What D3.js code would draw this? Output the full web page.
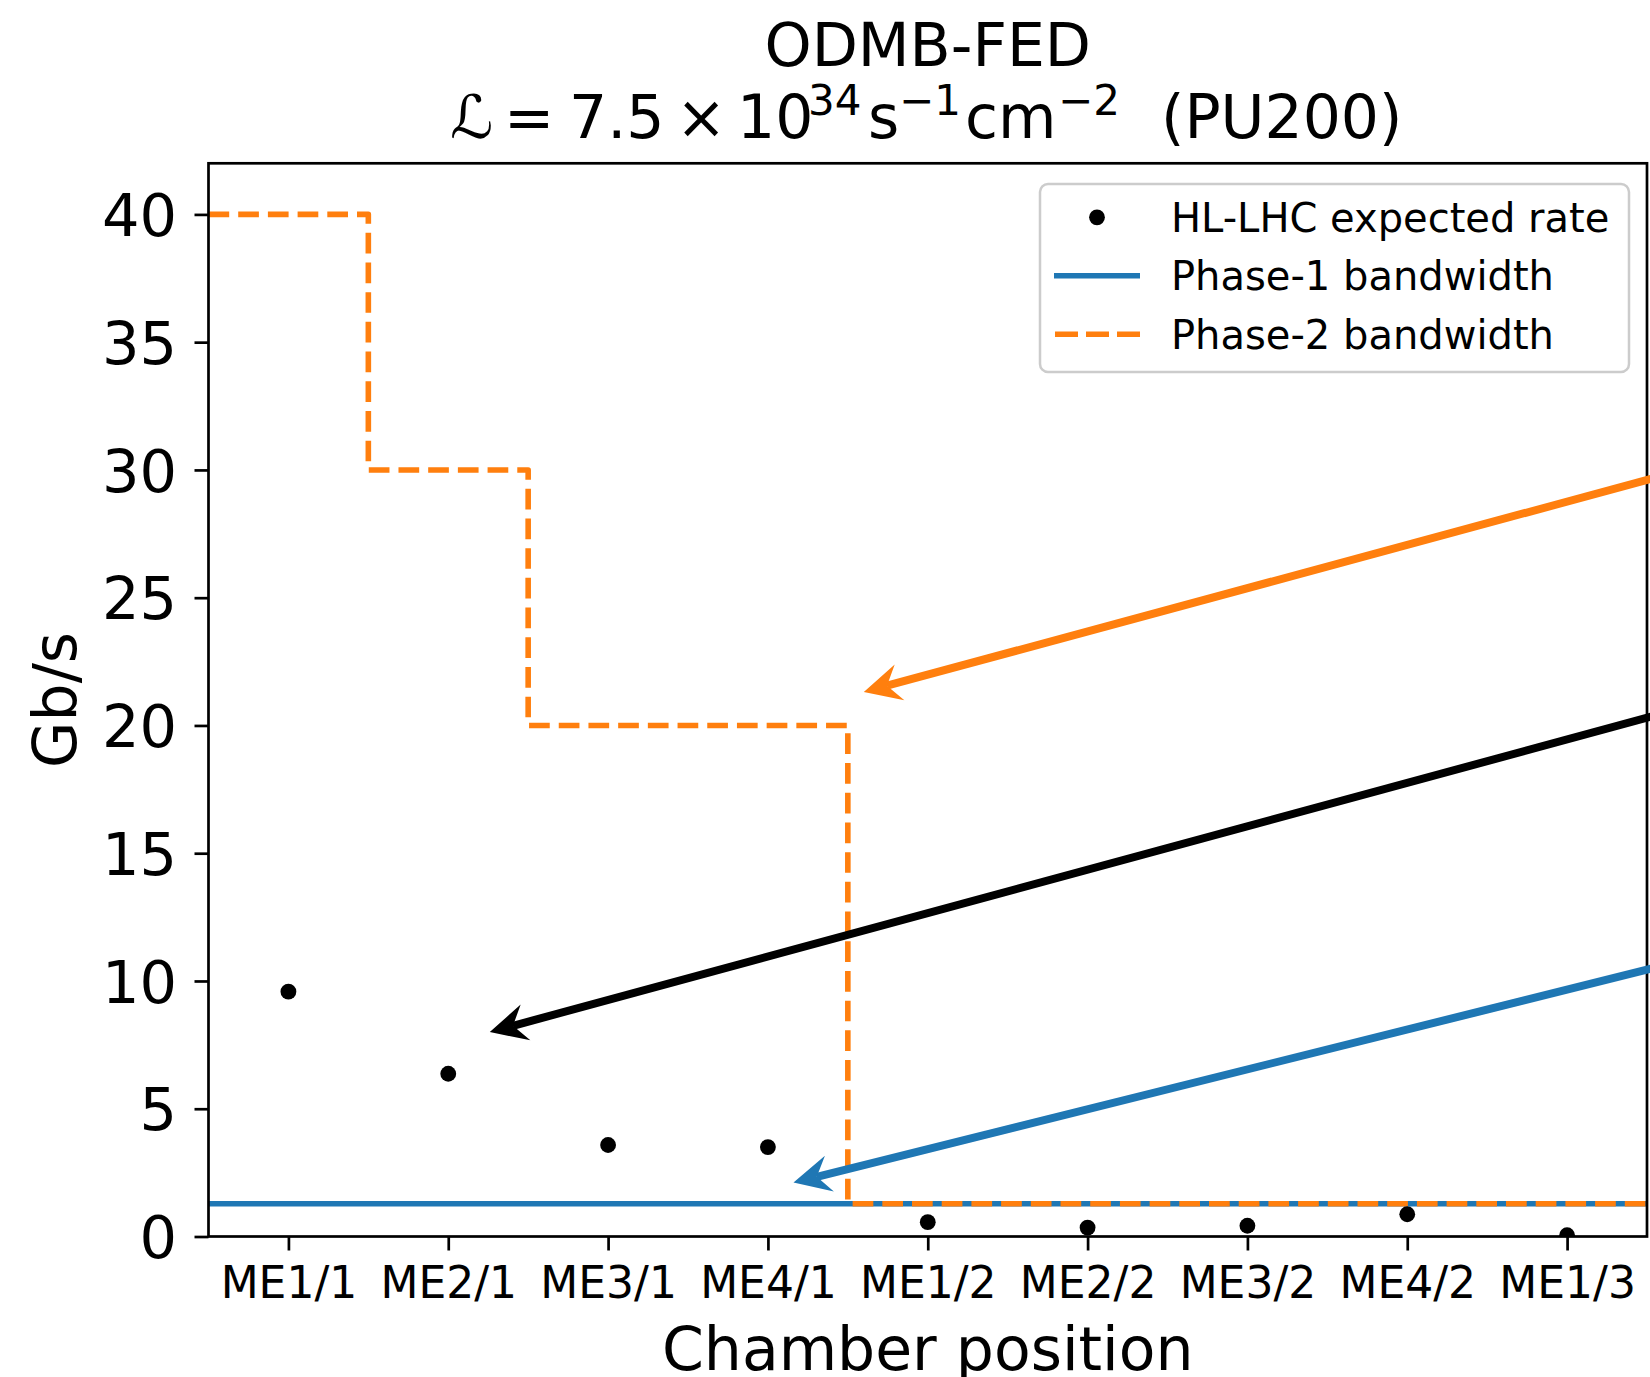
<!DOCTYPE html>
<html>
<head>
<meta charset="utf-8">
<script src="https://cdn.jsdelivr.net/npm/d3@7"></script>
<style>
  body { margin: 0; background: #fff; }
  text { font-family: "DejaVu Sans", sans-serif; fill: #000; }
</style>
</head>
<body>
<div id="plot"></div>
<script>
// chamber positions on the x axis
var chambers = ["ME1/1", "ME2/1", "ME3/1", "ME4/1", "ME1/2", "ME2/2", "ME3/2", "ME4/2", "ME1/3"];
// HL-LHC expected rate per chamber (Gb/s)
var expectedRate = [9.58, 6.37, 3.58, 3.50, 0.56, 0.35, 0.42, 0.87, 0.05];
// Phase-1 bandwidth, same for every chamber (Gb/s)
var phase1Bandwidth = 1.28;
// Phase-2 bandwidth per chamber (Gb/s)
var phase2Bandwidth = [40, 30, 20, 20, 1.28, 1.28, 1.28, 1.28, 1.28];
var yTicks = [0, 5, 10, 15, 20, 25, 30, 35, 40];
// annotation arrows, data units: head -> tail (tail lies off the figure)
var arrowHeads = [[3.60, 21.31], [1.26, 8.0], [3.16, 2.11]];
var arrowTails = [[9.5, 31.3], [9.5, 22.0], [9.5, 12.0]];

var width = 1650;
var height = 1377;
var margin = {left: 208.5, right: 1647, top: 163.3, bottom: 1236.5};
var blue = "#1f77b4", orange = "#ff7f0e";
var arrowColors = [orange, "#000", blue];

var svg = d3.select("#plot")
  .append("svg")
  .attr("width", width)
  .attr("height", height);

var x = d3.scaleLinear().domain([-0.5, 8.5]).range([margin.left, margin.right]);
var y = d3.scaleLinear().domain([0, 42]).range([margin.bottom, margin.top]);

svg.append("clipPath").attr("id", "clip")
  .append("rect")
  .attr("x", margin.left).attr("y", margin.top)
  .attr("width", margin.right - margin.left)
  .attr("height", margin.bottom - margin.top);

var plot = svg.append("g").attr("clip-path", "url(#clip)");

// phase-1 bandwidth: flat line over the whole range
plot.append("path")
  .datum(x.domain())
  .attr("d", d3.line().x(function(d) { return x(d); }).y(y(phase1Bandwidth)))
  .attr("fill", "none")
  .attr("stroke", blue)
  .attr("stroke-width", 5.6);

// phase-2 bandwidth: step line, one stair per chamber
var stairs = phase2Bandwidth.map(function(v, i) { return [i - 0.5, v]; });
stairs.push([chambers.length - 0.5, phase2Bandwidth[phase2Bandwidth.length - 1]]);
plot.append("path")
  .datum(stairs)
  .attr("d", d3.line().curve(d3.curveStepAfter)
    .x(function(d) { return x(d[0]); })
    .y(function(d) { return y(d[1]); }))
  .attr("fill", "none")
  .attr("stroke", orange)
  .attr("stroke-width", 5.6)
  .attr("stroke-dasharray", "20.7,9")
  .attr("stroke-linejoin", "round");

// expected rate points
plot.selectAll("circle.rate")
  .data(expectedRate)
  .enter()
  .append("circle")
  .attr("class", "rate")
  .attr("cx", function(d, i) { return x(i); })
  .attr("cy", function(d) { return y(d); })
  .attr("r", 7.9)
  .attr("fill", "#000");

// axes
var yAxis = svg.append("g")
  .attr("transform", "translate(" + margin.left + ",0)")
  .call(d3.axisLeft(y).tickValues(yTicks).tickSize(14).tickPadding(17.5));
yAxis.selectAll("text").attr("font-size", 59).attr("dy", "0.36em");

var xAxis = svg.append("g")
  .attr("transform", "translate(0," + margin.bottom + ")")
  .call(d3.axisBottom(x).tickValues(d3.range(chambers.length))
    .tickFormat(function(i) { return chambers[i]; })
    .tickSize(14).tickPadding(16.5));
xAxis.selectAll("text").attr("font-size", 44);

svg.selectAll(".domain").remove();
svg.selectAll(".tick line").attr("stroke", "#000").attr("stroke-width", 2.7);
svg.selectAll(".tick text").attr("fill", "#000").attr("font-family", "DejaVu Sans, sans-serif");

// frame
svg.append("rect")
  .attr("x", margin.left).attr("y", margin.top)
  .attr("width", margin.right - margin.left)
  .attr("height", margin.bottom - margin.top)
  .attr("fill", "none")
  .attr("stroke", "#000")
  .attr("stroke-width", 2.7);

// annotation arrows (not clipped, they run off the figure)
var headLen = 37, headHalf = 18.5, notch = 24;
arrowHeads.forEach(function(h, i) {
  var tx = x(h[0]), ty = y(h[1]);
  var fx = x(arrowTails[i][0]), fy = y(arrowTails[i][1]);
  var len = Math.hypot(fx - tx, fy - ty);
  var ux = (fx - tx) / len, uy = (fy - ty) / len;   // from tip back to tail
  var px = -uy, py = ux;
  svg.append("line")
    .attr("x1", fx).attr("y1", fy)
    .attr("x2", tx + ux * notch).attr("y2", ty + uy * notch)
    .attr("stroke", arrowColors[i])
    .attr("stroke-width", 8);
  var pts = [
    [tx, ty],
    [tx + ux * headLen + px * headHalf, ty + uy * headLen + py * headHalf],
    [tx + ux * notch, ty + uy * notch],
    [tx + ux * headLen - px * headHalf, ty + uy * headLen - py * headHalf]
  ];
  svg.append("polygon")
    .attr("points", pts.map(function(p) { return p.join(","); }).join(" "))
    .attr("fill", arrowColors[i]);
});

// legend
var legend = svg.append("g");
legend.append("rect")
  .attr("x", 1040).attr("y", 184)
  .attr("width", 589).attr("height", 188)
  .attr("rx", 8).attr("ry", 8)
  .attr("fill", "#fff").attr("fill-opacity", 0.8)
  .attr("stroke", "#cccccc").attr("stroke-width", 2.5);

var legendRows = ["HL-LHC expected rate", "Phase-1 bandwidth", "Phase-2 bandwidth"];
var rowY = [217.3, 275.7, 334.3];
legend.append("circle")
  .attr("cx", 1097).attr("cy", rowY[0]).attr("r", 7.9).attr("fill", "#000");
legend.append("line")
  .attr("x1", 1054).attr("x2", 1140).attr("y1", rowY[1]).attr("y2", rowY[1])
  .attr("stroke", blue).attr("stroke-width", 5.6);
legend.append("line")
  .attr("x1", 1055).attr("x2", 1140).attr("y1", rowY[2]).attr("y2", rowY[2])
  .attr("stroke", orange).attr("stroke-width", 5.6)
  .attr("stroke-dasharray", "23,8");
legend.selectAll("text")
  .data(legendRows)
  .enter()
  .append("text")
  .text(function(d) { return d; })
  .attr("x", 1171)
  .attr("y", function(d, i) { return rowY[i] + 14.5; })
  .attr("font-size", 40);

// titles and axis labels
var cx = (margin.left + margin.right) / 2;
svg.append("text")
  .text("ODMB-FED")
  .attr("x", cx).attr("y", 66)
  .attr("text-anchor", "middle")
  .attr("font-size", 60);

// second title line, laid out piece by piece like mathtext
var t2 = svg.append("text")
  .attr("y", 138)
  .attr("font-size", 60);
var pieces = [
  {s: "\u2112", x: 450, sup: false},
  {s: "=", x: 504, sup: false},
  {s: "7.5", x: 569, sup: false},
  {s: "\u00d7", x: 676, sup: false},
  {s: "10", x: 737, sup: false},
  {s: "34", x: 808, sup: true},
  {s: "s", x: 868, sup: false},
  {s: "\u22121", x: 899, sup: true},
  {s: "cm", x: 965, sup: false},
  {s: "\u22122", x: 1058, sup: true},
  {s: "(PU200)", x: 1161, sup: false}
];
pieces.forEach(function(p) {
  t2.append("tspan")
    .attr("x", p.x)
    .attr("y", p.sup ? 115 : 138)
    .attr("font-size", p.sup ? 42 : 60)
    .text(p.s);
});

svg.append("text")
  .text("Chamber position")
  .attr("x", cx).attr("y", 1370)
  .attr("text-anchor", "middle")
  .attr("font-size", 60);

svg.append("text")
  .text("Gb/s")
  .attr("transform", "translate(75.5," + ((margin.top + margin.bottom) / 2) + ") rotate(-90)")
  .attr("text-anchor", "middle")
  .attr("font-size", 60);
</script>
</body>
</html>
